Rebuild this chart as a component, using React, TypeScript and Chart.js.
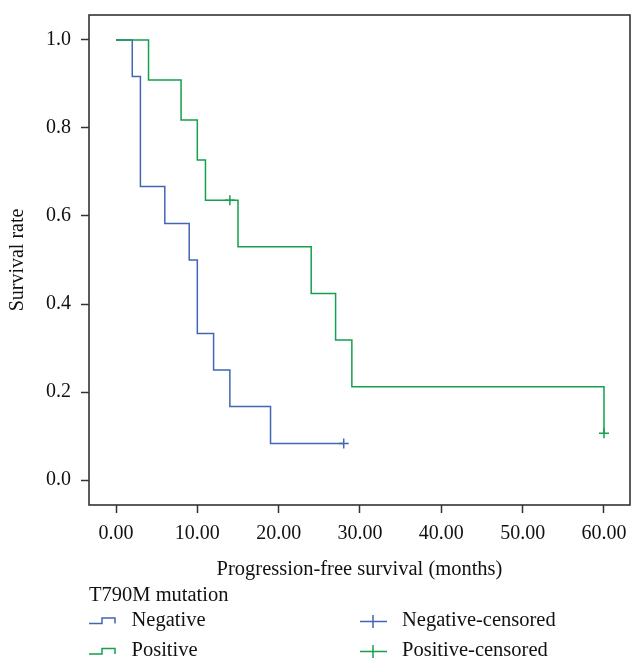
import React, { useEffect, useRef } from "react";
import { Chart, registerables } from "chart.js";

Chart.register(...registerables);

// ---- data ----
const negTimes = [0, 2, 3, 6, 9, 10, 12, 14, 19, 28];
const negSurvival = [1.0, 0.917, 0.667, 0.583, 0.5, 0.333, 0.25, 0.167, 0.083, 0.083];
const negCensoredTimes = [28];
const negCensoredSurvival = [0.083];

const posTimes = [0, 4, 8, 10, 11, 14, 15, 24, 27, 29, 60];
const posSurvival = [1.0, 0.909, 0.818, 0.727, 0.636, 0.636, 0.53, 0.424, 0.318, 0.212, 0.106];
const posCensoredTimes = [14, 60];
const posCensoredSurvival = [0.636, 0.106];

const xTicks = [0, 10, 20, 30, 40, 50, 60];
const yTicks = [0, 0.2, 0.4, 0.6, 0.8, 1.0];

const legendTitle = "T790M mutation";
const seriesNames = ["Negative", "Positive"];
const censoredNames = ["Negative-censored", "Positive-censored"];
const xTitle = "Progression-free survival (months)";
const yTitle = "Survival rate";

const BLUE = "#4066b4";
const GREEN = "#14a04c";
const AXIS = "#333333";
const FONT = "'Liberation Serif', 'Times New Roman', serif";

const toPoints = (xs: number[], ys: number[]) => xs.map((x, i) => ({ x, y: ys[i] }));

const framePlugin = {
  id: "frameAndLegend",
  afterDraw(chart: any) {
    const { ctx, chartArea } = chart;
    ctx.save();
    ctx.strokeStyle = AXIS;
    ctx.lineWidth = 1.6;
    ctx.strokeRect(chartArea.left, chartArea.top, chartArea.right - chartArea.left, chartArea.bottom - chartArea.top);

    // legend
    ctx.fillStyle = "#111";
    ctx.textBaseline = "alphabetic";
    ctx.textAlign = "left";
    ctx.font = `20.5px ${FONT}`;
    ctx.fillText(legendTitle, 89, 600.5);

    const drawStep = (color: string, yLow: number, yHigh: number) => {
      ctx.strokeStyle = color;
      ctx.lineWidth = 1.5;
      ctx.beginPath();
      ctx.moveTo(89, yLow);
      ctx.lineTo(102, yLow);
      ctx.lineTo(102, yHigh);
      ctx.lineTo(115, yHigh);
      ctx.lineTo(115, yLow);
      ctx.stroke();
    };
    const drawCross = (color: string, cx: number, cy: number) => {
      ctx.strokeStyle = color;
      ctx.lineWidth = 1.5;
      ctx.beginPath();
      ctx.moveTo(360, cy);
      ctx.lineTo(387, cy);
      ctx.moveTo(cx, cy - 6.5);
      ctx.lineTo(cx, cy + 6.5);
      ctx.stroke();
    };
    drawStep(BLUE, 623.5, 618);
    drawStep(GREEN, 654, 648.5);
    drawCross(BLUE, 373, 621.5);
    drawCross(GREEN, 373, 651.5);

    ctx.fillStyle = "#111";
    ctx.font = `20.5px ${FONT}`;
    ctx.fillText(seriesNames[0], 131.5, 626);
    ctx.fillText(seriesNames[1], 131.5, 655.5);
    ctx.fillText(censoredNames[0], 402, 626);
    ctx.fillText(censoredNames[1], 402, 655.5);
    ctx.restore();
  },
};

export default function App() {
  const canvasRef = useRef<HTMLCanvasElement | null>(null);

  useEffect(() => {
    if (!canvasRef.current) return;
    const chart = new Chart(canvasRef.current, {
      type: "line",
      data: {
        datasets: [
          {
            label: seriesNames[1],
            data: toPoints(posTimes, posSurvival),
            borderColor: GREEN,
            borderWidth: 1.5,
            pointRadius: 0,
            stepped: true,
            fill: false,
            order: 1,
          },
          {
            label: seriesNames[0],
            data: toPoints(negTimes, negSurvival),
            borderColor: BLUE,
            borderWidth: 1.5,
            pointRadius: 0,
            stepped: true,
            fill: false,
            order: 2,
          },
          {
            label: censoredNames[0],
            data: toPoints(negCensoredTimes, negCensoredSurvival),
            showLine: false,
            pointStyle: "cross",
            pointRadius: 5,
            pointBorderWidth: 1.5,
            borderColor: BLUE,
            backgroundColor: BLUE,
            order: 0,
          },
          {
            label: censoredNames[1],
            data: toPoints(posCensoredTimes, posCensoredSurvival),
            showLine: false,
            pointStyle: "cross",
            pointRadius: 5,
            pointBorderWidth: 1.5,
            borderColor: GREEN,
            backgroundColor: GREEN,
            order: 0,
          },
        ],
      },
      options: {
        responsive: false,
        animation: false,
        devicePixelRatio: 1,
        layout: { autoPadding: false, padding: { left: 0, top: 15, right: 1, bottom: 75 } },
        plugins: {
          legend: { display: false },
          tooltip: { enabled: false },
        },
        scales: {
          x: {
            type: "linear",
            min: -3.32,
            max: 63.2,
            afterBuildTicks: (s: any) => {
              s.ticks = xTicks.map((v) => ({ value: v }));
            },
            afterFit: (s: any) => {
              s.height = 80;
              s.paddingLeft = 0;
              s.paddingRight = 0;
              s.paddingTop = 0;
              s.paddingBottom = 0;
            },
            grid: {
              display: true,
              drawOnChartArea: false,
              drawTicks: true,
              tickLength: 8,
              tickColor: AXIS,
              tickWidth: 1.5,
            },
            border: { display: false },
            ticks: {
              color: "#111",
              padding: 9,
              maxRotation: 0,
              autoSkip: false,
              font: { family: FONT, size: 20 },
              callback: (v: any) => Number(v).toFixed(2),
            },
            title: {
              display: true,
              text: xTitle,
              color: "#111",
              font: { family: FONT, size: 20.5 },
              padding: { top: 0, bottom: 3 },
            },
          },
          y: {
            type: "linear",
            min: -0.0568,
            max: 1.0568,
            afterBuildTicks: (s: any) => {
              s.ticks = yTicks.map((v) => ({ value: v }));
            },
            afterFit: (s: any) => {
              s.width = 89;
              s.paddingLeft = 0;
              s.paddingRight = 0;
              s.paddingTop = 0;
              s.paddingBottom = 0;
            },
            grid: {
              display: true,
              drawOnChartArea: false,
              drawTicks: true,
              tickLength: 8,
              tickColor: AXIS,
              tickWidth: 1.5,
            },
            border: { display: false },
            ticks: {
              color: "#111",
              padding: 10,
              autoSkip: false,
              font: { family: FONT, size: 20 },
              callback: (v: any) => Number(v).toFixed(1),
            },
            title: {
              display: true,
              text: yTitle,
              color: "#111",
              font: { family: FONT, size: 20 },
              padding: { top: 6, bottom: 0 },
            },
          },
        },
      },
      plugins: [framePlugin],
    });
    return () => chart.destroy();
  }, []);

  return (
    <div style={{ position: "absolute", left: 0, top: 0, width: 631, height: 660, background: "#fff" }}>
      <canvas ref={canvasRef} width={631} height={660} style={{ display: "block" }} />
    </div>
  );
}
